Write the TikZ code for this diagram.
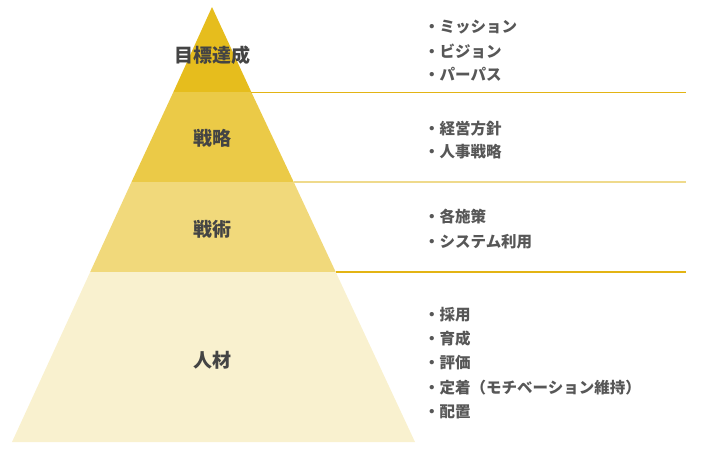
\documentclass[tikz,border=0pt]{standalone}
\usepackage{fontspec}
\setmainfont{Noto Sans CJK JP}
\usepackage{tikz}
\usetikzlibrary{positioning}
\definecolor{goldA}{HTML}{E6BD1D}
\definecolor{goldB}{HTML}{EBCA47}
\definecolor{goldC}{HTML}{F1D97B}
\definecolor{goldD}{HTML}{F9F1CF}
\definecolor{lineA}{HTML}{E3B414}
\definecolor{lineB}{HTML}{EFDA8C}
\definecolor{inkgray}{HTML}{444444}
\tikzset{
  layer/.style={draw=none},
  label/.style={font=\fontsize{19}{19}\selectfont\bfseries, text=inkgray, inner sep=0pt},
  item/.style={font=\fontsize{15.5}{15.5}\selectfont\bfseries, text=inkgray!90, anchor=west, inner sep=0pt},
  sep/.style={line width=1.2pt}
}

\begin{document}
\begin{tikzpicture}[x=1pt, y=-1pt]
\useasboundingbox (0,0) rectangle (720,450);

% Pyramid corners
\coordinate (apex) at (212,7);
\coordinate (l1) at (173.4,92);  \coordinate (r1) at (251.3,92);
\coordinate (l2) at (131.5,182); \coordinate (r2) at (293.7,182);
\coordinate (l3) at (90.2,272);  \coordinate (r3) at (335.7,272);
\coordinate (l4) at (12,442);    \coordinate (r4) at (415,442);

% Layers
\fill[goldA] (apex) -- (r1) -- (l1) -- cycle;
\fill[goldB] (l1) -- (r1) -- (r2) -- (l2) -- cycle;
\fill[goldC] (l2) -- (r2) -- (r3) -- (l3) -- cycle;
\fill[goldD] (l3) -- (r3) -- (r4) -- (l4) -- cycle;

% Layer labels
\node[label] (goal) at (212,55) {目標達成};
\node[label] (strategy) at (212,138) {戦略};
\node[label] (tactics) at (212,229) {戦術};
\node[label] (people) at (212,360) {人材};

% Separators
\coordinate (e1) at (686,92);
\coordinate (e2) at (686,182);
\coordinate (e3) at (686,272);
\draw[sep, lineA, line width=1pt] (r1) -- (e1);
\draw[sep, lineB, line width=2pt] (r2) -- (e2);
\draw[sep, lineA] (r3) -- (e3);

% Goal items
\node[item] (mission) at (424,27) {・ミッション};
\node[item] (vision) at (424,51) {・ビジョン};
\node[item] (purpose) at (424,74) {・パーパス};

% Strategy items
\node[item] (policy) at (424,129) {・経営方針};
\node[item] (hrplan) at (424,152) {・人事戦略};

% Tactics items
\node[item] (measures) at (424,217) {・各施策};
\node[item] (system) at (424,242) {・システム利用};

% People items
\node[item] (hiring) at (424,315) {・採用};
\node[item] (training) at (424,339) {・育成};
\node[item] (review) at (424,363) {・評価};
\node[item] (retention) at (424,388) {・定着（モチベーション維持）};
\node[item] (placement) at (424,412) {・配置};

\end{tikzpicture}
\end{document}
